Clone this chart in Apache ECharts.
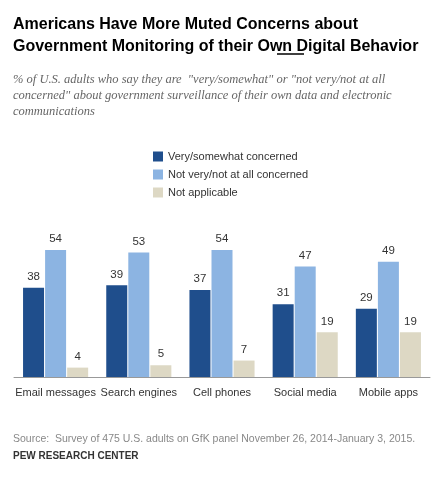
<!DOCTYPE html>
<html><head><meta charset="utf-8">
<script src="https://cdn.jsdelivr.net/npm/echarts@6/dist/echarts.min.js"></script>
<style>body{margin:0;background:#fff}#c{width:436px;height:482px}</style>
</head><body><div id="c"></div>
<script>
const categories=['Email messages','Search engines','Cell phones','Social media','Mobile apps'];
const concerned=[38,39,37,31,29];
const notConcerned=[54,53,54,47,49];
const notApplicable=[4,5,7,19,19];
const names=['Very/somewhat concerned','Not very/not at all concerned','Not applicable'];
const colors=['#1f4e8c','#8cb4e2','#ddd8c4'];
const chart=echarts.init(document.getElementById('c'));
const lbl={show:true,position:'top',color:'#333',fontSize:11.5,fontFamily:'Arial, Liberation Sans'};
chart.setOption({
  animation:false,
  title:[
    {text:'Americans Have More Muted Concerns about\nGovernment Monitoring of their Own Digital Behavior',left:8,top:9,
     textStyle:{fontSize:16,fontWeight:'bold',color:'#000',lineHeight:22,fontFamily:'Arial, Liberation Sans'}},
    {text:'% of U.S. adults who say they are  "very/somewhat" or "not very/not at all\nconcerned" about government surveillance of their own data and electronic\ncommunications',left:8,top:67,
     textStyle:{fontSize:12.5,fontStyle:'italic',fontWeight:'normal',color:'#666',lineHeight:16,fontFamily:'Liberation Serif'}},
    {text:'Source:  Survey of 475 U.S. adults on GfK panel November 26, 2014-January 3, 2015.',left:8,top:429,
     textStyle:{fontSize:10.5,fontWeight:'normal',color:'#888',fontFamily:'Arial, Liberation Sans'}},
    {text:'PEW RESEARCH CENTER',left:8,top:446,textStyle:{fontSize:10,fontWeight:'bold',color:'#333',fontFamily:'Arial, Liberation Sans'}}
  ],
  graphic:[{type:'line',shape:{x1:277,y1:54,x2:304,y2:54},style:{stroke:'#000',lineWidth:1.5}}],
  legend:{orient:'vertical',left:148,top:146,itemWidth:10,itemHeight:10,itemGap:7,icon:'rect',
    textStyle:{fontSize:11,color:'#333',fontFamily:'Arial, Liberation Sans'},data:names},
  grid:{left:14,right:6,top:236,bottom:105},
  xAxis:{type:'category',data:categories,axisTick:{show:false},
    axisLine:{lineStyle:{color:'#999'}},
    axisLabel:{color:'#333',fontSize:11,margin:10,fontFamily:'Arial, Liberation Sans',interval:0}},
  yAxis:{type:'value',min:0,max:60,show:false,splitLine:{show:false}},
  series:[concerned,notConcerned,notApplicable].map((d,i)=>({
    name:names[i],type:'bar',data:d,barWidth:21,barGap:'5%',itemStyle:{color:colors[i]},label:lbl}))
});
</script></body></html>
